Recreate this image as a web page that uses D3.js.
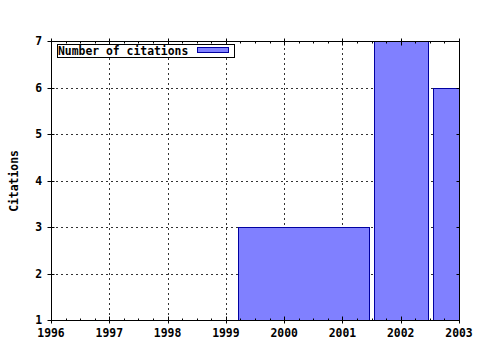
<!DOCTYPE html>
<html><head><meta charset="utf-8">
<script src="https://cdn.jsdelivr.net/npm/d3@7"></script>
<style>body{margin:0;background:#fff}</style>
</head><body>
<script>
const years = [1996, 1997, 1998, 1999, 2000, 2001, 2002, 2003];
const yTicks = [1, 2, 3, 4, 5, 6, 7];
const barStart = [1999.2, 2001.55, 2002.55];
const barEnd = [2001.46, 2002.46, 2003.0];
const citations = [3, 7, 6];
const seriesName = "Number of citations";
const yTitle = "Citations";

const W = 480, H = 350;
const m = {left: 51, right: 21, top: 41, bottom: 30};
const font = "'DejaVu Sans Mono', monospace";
const svg = d3.select("body").append("svg").attr("width", W).attr("height", H)
  .style("font-family", font).style("font-weight", "bold");

const x = d3.scaleLinear().domain([1996, 2003]).range([m.left, W - m.right]);
const y = d3.scaleLinear().domain([1, 7]).range([H - m.bottom, m.top]);

// grid
const g = svg.append("g").attr("stroke", "#333").attr("stroke-dasharray", "2,3").attr("stroke-width", 1);
years.slice(1, -1).forEach(v => g.append("line").attr("x1", Math.round(x(v)) + 0.5).attr("x2", Math.round(x(v)) + 0.5).attr("y1", y(1)).attr("y2", y(7)));
yTicks.slice(1, -1).forEach(v => g.append("line").attr("y1", Math.round(y(v)) + 0.5).attr("y2", Math.round(y(v)) + 0.5).attr("x1", x(1996)).attr("x2", x(2003)));

// bars
svg.append("g").selectAll("rect").data(citations).join("rect")
  .attr("x", (d, i) => Math.round(x(barStart[i])) + 0.5)
  .attr("width", (d, i) => Math.round(x(barEnd[i])) - Math.round(x(barStart[i])))
  .attr("y", d => Math.round(y(d)) + 0.5)
  .attr("height", d => Math.round(y(1)) - Math.round(y(d)))
  .attr("fill", "#8080ff").attr("stroke", "#0000a0").attr("stroke-width", 1);

// border box
const L = m.left + 0.5, R = W - m.right + 0.5, T = m.top + 0.5, B = H - m.bottom + 0.5;
svg.append("path").attr("d", `M${L},${T}H${R}V${B}H${L}Z`).attr("fill", "none").attr("stroke", "#000");

// minor/major ticks
const tk = svg.append("g").attr("stroke", "#000");
const minor = d3.range(1996, 2003.001, 0.25);
minor.forEach(v => {
  const xx = Math.round(x(v)) + 0.5;
  const len = Number.isInteger(v) ? 4 : 2;
  tk.append("line").attr("x1", xx).attr("x2", xx).attr("y1", B).attr("y2", B - len);
  tk.append("line").attr("x1", xx).attr("x2", xx).attr("y1", T).attr("y2", T + len);
});
years.forEach(v => {
  const xx = Math.round(x(v)) + 0.5;
  tk.append("line").attr("x1", xx).attr("x2", xx).attr("y1", B).attr("y2", B + 3);
  tk.append("line").attr("x1", xx).attr("x2", xx).attr("y1", T).attr("y2", T - 3);
});
yTicks.forEach(v => {
  const yy = Math.round(y(v)) + 0.5;
  tk.append("line").attr("x1", L - 4).attr("x2", L + 3).attr("y1", yy).attr("y2", yy);
  tk.append("line").attr("x1", R - 3).attr("x2", R).attr("y1", yy).attr("y2", yy);
});

// tick labels
svg.append("g").selectAll("text").data(years).join("text")
  .attr("x", d => x(d)).attr("y", B + 16).attr("text-anchor", "middle")
  .attr("font-size", 11.4).text(d => d);
svg.append("g").selectAll("text").data(yTicks).join("text")
  .attr("x", 42).attr("y", d => y(d) + 4).attr("text-anchor", "end")
  .attr("font-size", 11.4).text(d => d);

// y title
svg.append("text").attr("transform", `translate(18,${(T + B) / 2}) rotate(-90)`)
  .attr("text-anchor", "middle").attr("font-size", 11.4).text(yTitle);

// legend
svg.append("rect").attr("x", 57.5).attr("y", 44.5).attr("width", 177).attr("height", 13)
  .attr("fill", "#fff").attr("stroke", "#000");
svg.append("text").attr("x", 58).attr("y", 55).attr("font-size", 11.4).text(seriesName);
svg.append("rect").attr("x", 197.5).attr("y", 47.5).attr("width", 31).attr("height", 5)
  .attr("fill", "#8080ff").attr("stroke", "#0000a0");
</script>
</body></html>
